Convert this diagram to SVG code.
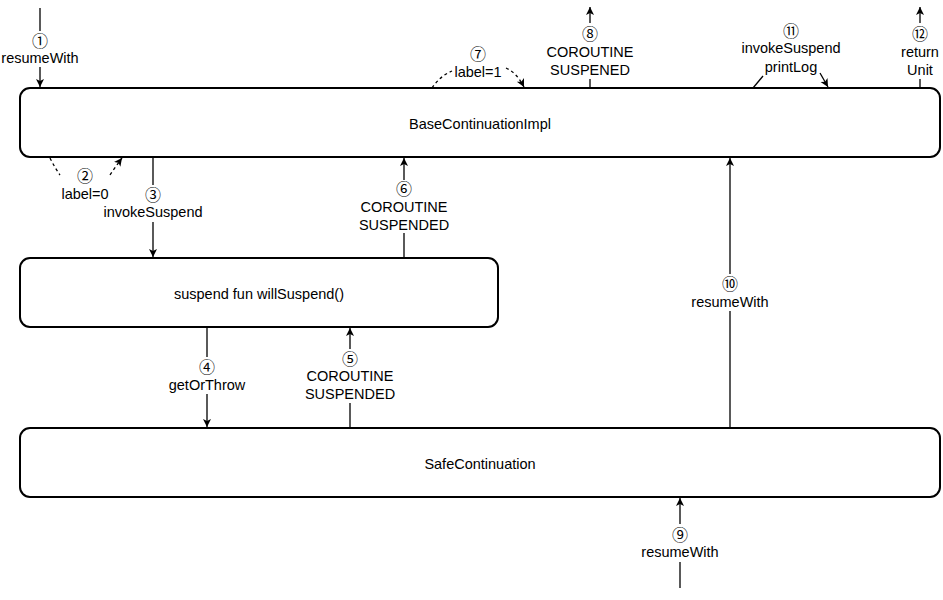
<svg xmlns="http://www.w3.org/2000/svg" width="943" height="600" viewBox="0 0 943 600">
  <style>
    .box { fill: #ffffff; stroke: #000000; stroke-width: 2; }
    .title { font-family: "Liberation Sans", Arial, sans-serif; font-size: 14.5px; fill: #000; text-anchor: middle; dominant-baseline: central; }
    .lbl { font-family: "Liberation Sans", Arial, sans-serif; font-size: 14.5px; fill: #000; text-anchor: middle; dominant-baseline: central; }
    .num { font-family: "Noto Sans CJK SC", "DejaVu Sans", sans-serif; font-size: 16px; fill: #000; text-anchor: middle; dominant-baseline: central; }
    .edge { fill: none; stroke: #000; stroke-width: 1.3; }
    .dash { fill: none; stroke: #000; stroke-width: 1.3; stroke-dasharray: 3 3; }
  </style>
  <defs>
    <marker id="arrow" markerWidth="10" markerHeight="10" refX="8" refY="4" orient="auto" markerUnits="userSpaceOnUse">
      <path d="M0,0 L8,4 L0,8 L2,4 z" fill="#000"/>
    </marker>
  </defs>
  <rect width="943" height="600" fill="#ffffff"/>

  <!-- nodes -->
  <g id="base-continuation-impl">
    <rect class="box" x="20" y="88" width="920" height="69" rx="10" ry="10"/>
    <text class="title" x="480" y="124">BaseContinuationImpl</text>
  </g>
  <g id="will-suspend">
    <rect class="box" x="20" y="258" width="478" height="69" rx="10" ry="10"/>
    <text class="title" x="259" y="294">suspend fun willSuspend()</text>
  </g>
  <g id="safe-continuation">
    <rect class="box" x="20" y="428" width="920" height="69" rx="10" ry="10"/>
    <text class="title" x="480" y="464">SafeContinuation</text>
  </g>

  <!-- connectors -->
  <g id="connectors">
    <!-- 1 resumeWith into BaseContinuationImpl -->
    <line class="edge" x1="40" y1="8" x2="40" y2="31"/>
    <line class="edge" x1="40" y1="67" x2="40" y2="87" marker-end="url(#arrow)"/>
    <text class="num" x="40" y="40">①</text>
    <text class="lbl" x="40" y="58">resumeWith</text>

    <!-- 2 label=0 self loop -->
    <path class="dash" d="M50,158 Q55,168 60,175"/>
    <path class="dash" d="M110,175 Q116,166 122,158" marker-end="url(#arrow)"/>
    <text class="num" x="85" y="175">②</text>
    <text class="lbl" x="85" y="194">label=0</text>

    <!-- 3 invokeSuspend -->
    <line class="edge" x1="153" y1="157" x2="153" y2="185"/>
    <line class="edge" x1="153" y1="222" x2="153" y2="257" marker-end="url(#arrow)"/>
    <text class="num" x="153" y="194">③</text>
    <text class="lbl" x="153" y="212">invokeSuspend</text>

    <!-- 6 COROUTINE SUSPENDED back to BaseContinuationImpl -->
    <line class="edge" x1="404" y1="258" x2="404" y2="233"/>
    <line class="edge" x1="404" y1="180" x2="404" y2="158" marker-end="url(#arrow)"/>
    <text class="num" x="404" y="188">⑥</text>
    <text class="lbl" x="404" y="207">COROUTINE</text>
    <text class="lbl" x="404" y="225">SUSPENDED</text>

    <!-- 4 getOrThrow -->
    <line class="edge" x1="207" y1="327" x2="207" y2="357"/>
    <line class="edge" x1="207" y1="394" x2="207" y2="427" marker-end="url(#arrow)"/>
    <text class="num" x="207" y="366">④</text>
    <text class="lbl" x="207" y="385">getOrThrow</text>

    <!-- 5 COROUTINE SUSPENDED back to willSuspend -->
    <line class="edge" x1="350" y1="428" x2="350" y2="403"/>
    <line class="edge" x1="350" y1="349" x2="350" y2="328" marker-end="url(#arrow)"/>
    <text class="num" x="350" y="358">⑤</text>
    <text class="lbl" x="350" y="376">COROUTINE</text>
    <text class="lbl" x="350" y="394">SUSPENDED</text>

    <!-- 7 label=1 self loop -->
    <path class="dash" d="M432,88 Q440,76 452,71"/>
    <path class="dash" d="M506,68 Q517,73 524,87" marker-end="url(#arrow)"/>
    <text class="num" x="478" y="53">⑦</text>
    <text class="lbl" x="478" y="72">label=1</text>

    <!-- 8 COROUTINE SUSPENED out -->
    <line class="edge" x1="590" y1="88" x2="590" y2="79"/>
    <line class="edge" x1="590" y1="23" x2="590" y2="7" marker-end="url(#arrow)"/>
    <text class="num" x="590" y="33">⑧</text>
    <text class="lbl" x="590" y="52">COROUTINE</text>
    <text class="lbl" x="590" y="70">SUSPENED</text>

    <!-- 11 invokeSuspend printLog -->
    <path class="edge" d="M753,88 L763,76"/>
    <path class="edge" d="M820,73 L828,87" marker-end="url(#arrow)"/>
    <text class="num" x="791" y="30">⑪</text>
    <text class="lbl" x="791" y="48">invokeSuspend</text>
    <text class="lbl" x="791" y="67">printLog</text>

    <!-- 12 return Unit -->
    <line class="edge" x1="920" y1="88" x2="920" y2="79"/>
    <line class="edge" x1="920" y1="23" x2="920" y2="7" marker-end="url(#arrow)"/>
    <text class="num" x="920" y="33">⑫</text>
    <text class="lbl" x="920" y="52">return</text>
    <text class="lbl" x="920" y="70">Unit</text>

    <!-- 10 resumeWith from SafeContinuation -->
    <line class="edge" x1="730" y1="428" x2="730" y2="311"/>
    <line class="edge" x1="730" y1="274" x2="730" y2="158" marker-end="url(#arrow)"/>
    <text class="num" x="730" y="283">⑩</text>
    <text class="lbl" x="730" y="302">resumeWith</text>

    <!-- 9 resumeWith into SafeContinuation -->
    <line class="edge" x1="680" y1="588" x2="680" y2="562"/>
    <line class="edge" x1="680" y1="524" x2="680" y2="498" marker-end="url(#arrow)"/>
    <text class="num" x="680" y="534">⑨</text>
    <text class="lbl" x="680" y="552">resumeWith</text>
  </g>
</svg>
